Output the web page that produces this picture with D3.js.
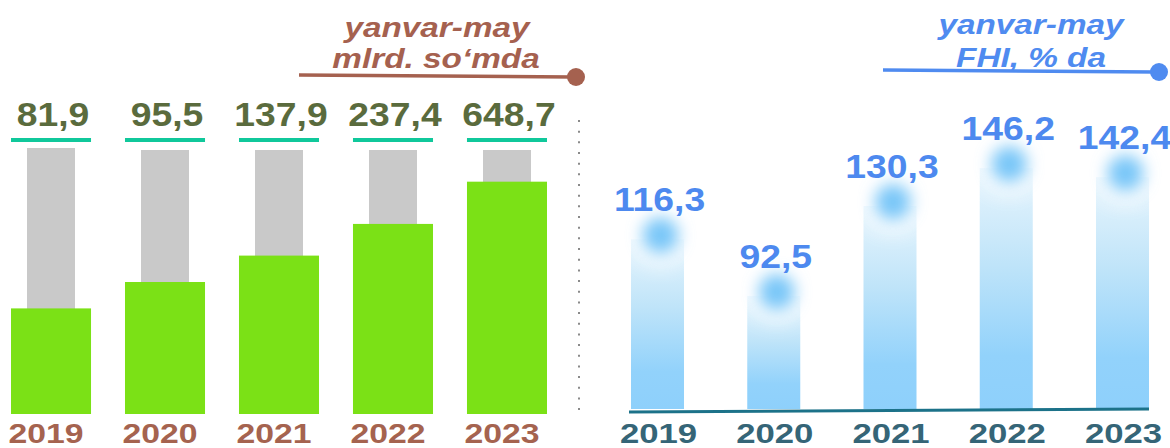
<!DOCTYPE html>
<html>
<head>
<meta charset="utf-8">
<script src="https://cdn.jsdelivr.net/npm/d3@7"></script>
<style>
  html, body { margin: 0; padding: 0; background: #ffffff; }
  svg { display: block; }
  text { font-family: "Liberation Sans", Arial, sans-serif; font-weight: bold; }
</style>
</head>
<body>
<svg id="chart" width="1170" height="448"></svg>
<script>
// ---------- data ----------
const years = ["2019", "2020", "2021", "2022", "2023"];
// left panel: yanvar-may, mlrd. so'mda
const leftValues = [81.9, 95.5, 137.9, 237.4, 648.7];
const leftLabels = ["81,9", "95,5", "137,9", "237,4", "648,7"];
// green fill level of each grey gauge, %
const leftFill = [40, 50, 60, 72, 88];
// right panel: yanvar-may, FHI, % da
const rightValues = [116.3, 92.5, 130.3, 146.2, 142.4];
const rightLabels = ["116,3", "92,5", "130,3", "146,2", "142,4"];
const leftTitle = ["yanvar-may", "mlrd. so‘mda"];
const rightTitle = ["yanvar-may", "FHI, % da"];

// ---------- setup ----------
const svg = d3.select("#chart");
const defs = svg.append("defs");

const blueGrad = defs.append("linearGradient")
  .attr("id", "blueBar").attr("x1", 0).attr("y1", 0).attr("x2", 0).attr("y2", 1);
blueGrad.append("stop").attr("offset", "0%").attr("stop-color", "#E8F5FD");
blueGrad.append("stop").attr("offset", "40%").attr("stop-color", "#BFE4F9");
blueGrad.append("stop").attr("offset", "78%").attr("stop-color", "#92D2FB");
blueGrad.append("stop").attr("offset", "100%").attr("stop-color", "#8ED0FB");

const blur = defs.append("filter").attr("id", "glow")
  .attr("x", "-100%").attr("y", "-100%").attr("width", "300%").attr("height", "300%");
blur.append("feGaussianBlur").attr("stdDeviation", 8);

const halo = defs.append("filter").attr("id", "halo")
  .attr("x", "-100%").attr("y", "-100%").attr("width", "300%").attr("height", "300%");
halo.append("feGaussianBlur").attr("stdDeviation", 10);

// helper: horizontally stretched text (keeps real text)
function stretchedText(g, x, y, str, size, color, sx, italic) {
  return g.append("text")
    .attr("transform", `translate(${x},${y}) scale(${sx},1)`)
    .attr("text-anchor", "middle")
    .attr("font-size", size)
    .attr("font-style", italic ? "italic" : "normal")
    .attr("fill", color)
    .text(str);
}

// ---------- left panel ----------
const xL = d3.scaleBand().domain(years).range([11, 547]).paddingInner(0.298).paddingOuter(0);
const gaugeTop = 150, gaugeBottom = 414;
const yL = d3.scaleLinear().domain([0, 100]).range([gaugeBottom, gaugeTop]);
const gL = svg.append("g");

const grayW = 48;
gL.selectAll("rect.gray").data(years).join("rect")
  .attr("class", "gray")
  .attr("x", d => xL(d) + xL.bandwidth() / 2 - grayW / 2)
  .attr("y", (d, i) => yL(100) - (i === 0 ? 2 : 0))
  .attr("width", grayW)
  .attr("height", (d, i) => yL(0) - yL(100) + (i === 0 ? 2 : 0))
  .attr("fill", "#C9C9C9");

gL.selectAll("rect.green").data(years).join("rect")
  .attr("class", "green")
  .attr("x", d => xL(d))
  .attr("y", (d, i) => yL(leftFill[i]))
  .attr("width", xL.bandwidth())
  .attr("height", (d, i) => yL(0) - yL(leftFill[i]))
  .attr("fill", "#7BE116");

gL.selectAll("rect.tick").data(years).join("rect")
  .attr("class", "tick")
  .attr("x", d => xL(d))
  .attr("y", 138)
  .attr("width", xL.bandwidth())
  .attr("height", 4)
  .attr("fill", "#10C89B");

years.forEach((d, i) => {
  stretchedText(gL, xL(d) + xL.bandwidth() / 2 + 2, 126, leftLabels[i], 33, "#5A6B3D", 1.13, false);
  stretchedText(gL, xL(d) + xL.bandwidth() / 2 - 5, 443, d, 27, "#A5634F", 1.25, false);
});

// left title
stretchedText(gL, 437, 37, leftTitle[0], 28, "#A5614F", 1.19, true);
stretchedText(gL, 436, 68, leftTitle[1], 28, "#A5614F", 1.19, true);
gL.append("path").attr("d", "M299,75 L572,77").attr("stroke", "#A5614F").attr("stroke-width", 3.5).attr("fill", "none");
gL.append("circle").attr("cx", 576).attr("cy", 77).attr("r", 9).attr("fill", "#A5614F");

// separator
svg.append("line").attr("x1", 579).attr("x2", 579).attr("y1", 120).attr("y2", 416)
  .attr("stroke", "#8A8A8A").attr("stroke-width", 2).attr("stroke-dasharray", "2,8.67");

// ---------- right panel ----------
const xR = d3.scaleBand().domain(years).range([631, 1149]).paddingInner(0.544).paddingOuter(0);
const barBottom = 409;
const yR = d3.scaleLinear().domain([45, 150]).range([barBottom, barBottom - 2.38 * 105]);
const gR = svg.append("g");

gR.selectAll("rect.blue").data(years).join("rect")
  .attr("class", "blue")
  .attr("x", d => xR(d))
  .attr("y", (d, i) => yR(rightValues[i]))
  .attr("width", xR.bandwidth())
  .attr("height", (d, i) => barBottom - yR(rightValues[i]))
  .attr("fill", "url(#blueBar)");

// soft halo + glow at bar tops
gR.selectAll("circle.halo").data(years).join("circle")
  .attr("class", "halo")
  .attr("cx", d => xR(d) + xR.bandwidth() / 2 + 3)
  .attr("cy", (d, i) => yR(rightValues[i]) - 4)
  .attr("r", 30)
  .attr("fill", "#FFFFFF")
  .attr("opacity", 0.85)
  .attr("filter", "url(#halo)");
gR.selectAll("circle.glow").data(years).join("circle")
  .attr("class", "glow")
  .attr("cx", d => xR(d) + xR.bandwidth() / 2 + 3)
  .attr("cy", (d, i) => yR(rightValues[i]) - 4)
  .attr("r", 18)
  .attr("fill", "#78C6F8")
  .attr("filter", "url(#glow)");

years.forEach((d, i) => {
  stretchedText(gR, xR(d) + xR.bandwidth() / 2 + 2, yR(rightValues[i]) - 28, rightLabels[i], 33, "#4D89EF", 1.13, false);
  stretchedText(gR, xR(d) + xR.bandwidth() / 2 + 1, 443, d, 28, "#356577", 1.24, false);
});

// baseline
gR.append("path").attr("d", "M629,412 L1149,409").attr("stroke", "#1C7289").attr("stroke-width", 3).attr("fill", "none");

// right title
stretchedText(gR, 1031, 34, rightTitle[0], 28, "#4F8BF0", 1.19, true);
stretchedText(gR, 1031, 67, rightTitle[1], 28, "#4F8BF0", 1.19, true);
gR.append("path").attr("d", "M883,70 L1154,72").attr("stroke", "#4F8BF0").attr("stroke-width", 3.5).attr("fill", "none");
gR.append("circle").attr("cx", 1159).attr("cy", 72).attr("r", 9).attr("fill", "#4F8BF0");
</script>
</body>
</html>
